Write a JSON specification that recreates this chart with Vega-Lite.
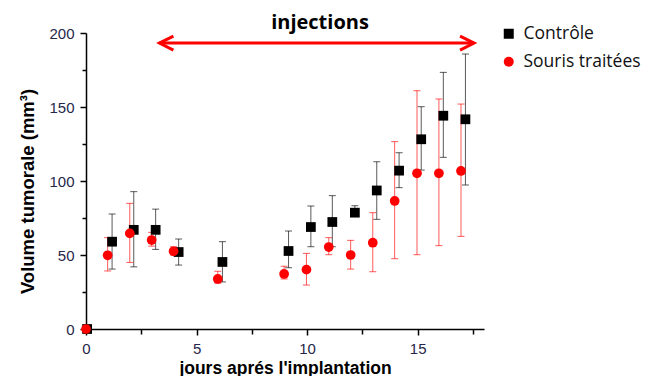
{
  "$schema": "https://vega.github.io/schema/vega-lite/v6.json",
  "width": 398,
  "height": 296,
  "autosize": {"type": "none"},
  "padding": {"left": 86, "top": 33, "right": 164, "bottom": 47},
  "background": "white",
  "title": {
    "text": "injections",
    "font": "Open Sans",
    "fontSize": 20,
    "fontWeight": "bold",
    "color": "black",
    "anchor": "middle",
    "frame": "group",
    "baseline": "alphabetic",
    "offset": 3,
    "dx": 35,
    "dy": 27
  },
  "datasets": {
    "pts": [
      {"serie": "Contrôle", "jour": 0.05, "volume": 0, "bas": null, "haut": null},
      {"serie": "Contrôle", "jour": 1.18, "volume": 59, "bas": 40.5, "haut": 77.7},
      {"serie": "Contrôle", "jour": 2.16, "volume": 67, "bas": 42, "haut": 92.8},
      {"serie": "Contrôle", "jour": 3.15, "volume": 67, "bas": 53.8, "haut": 81},
      {"serie": "Contrôle", "jour": 4.19, "volume": 52, "bas": 43.2, "haut": 60.8},
      {"serie": "Contrôle", "jour": 6.17, "volume": 45.3, "bas": 31.8, "haut": 59},
      {"serie": "Contrôle", "jour": 9.16, "volume": 52.7, "bas": 41.4, "haut": 66.2},
      {"serie": "Contrôle", "jour": 10.17, "volume": 68.9, "bas": 55.6, "haut": 83.1},
      {"serie": "Contrôle", "jour": 11.14, "volume": 72.3, "bas": 55.6, "haut": 90.1},
      {"serie": "Contrôle", "jour": 12.16, "volume": 78.6, "bas": 76, "haut": 83.3},
      {"serie": "Contrôle", "jour": 13.15, "volume": 93.6, "bas": 74.1, "haut": 113},
      {"serie": "Contrôle", "jour": 14.16, "volume": 107, "bas": 95.5, "haut": 119.1},
      {"serie": "Contrôle", "jour": 15.16, "volume": 128.2, "bas": 107.4, "haut": 150.2},
      {"serie": "Contrôle", "jour": 16.16, "volume": 144.1, "bas": 116, "haut": 173.4},
      {"serie": "Contrôle", "jour": 17.16, "volume": 141.7, "bas": 97.3, "haut": 185.8},
      {"serie": "Souris traitées", "jour": 0, "volume": 0, "bas": null, "haut": null},
      {"serie": "Souris traitées", "jour": 0.98, "volume": 49.8, "bas": 39.2, "haut": 61.7},
      {"serie": "Souris traitées", "jour": 1.98, "volume": 64.6, "bas": 45, "haut": 84.9},
      {"serie": "Souris traitées", "jour": 2.97, "volume": 60.1, "bas": 56, "haut": 65.3},
      {"serie": "Souris traitées", "jour": 3.96, "volume": 52.5, "bas": 50, "haut": 55.6},
      {"serie": "Souris traitées", "jour": 5.96, "volume": 33.8, "bas": 31, "haut": 39},
      {"serie": "Souris traitées", "jour": 8.96, "volume": 37.2, "bas": 33.8, "haut": 42.4},
      {"serie": "Souris traitées", "jour": 9.97, "volume": 40.1, "bas": 29.7, "haut": 51.1},
      {"serie": "Souris traitées", "jour": 10.98, "volume": 55.4, "bas": 50.2, "haut": 61.7},
      {"serie": "Souris traitées", "jour": 11.97, "volume": 50, "bas": 40.5, "haut": 59.9},
      {"serie": "Souris traitées", "jour": 12.97, "volume": 58.3, "bas": 38.7, "haut": 78.6},
      {"serie": "Souris traitées", "jour": 13.96, "volume": 86.5, "bas": 47.5, "haut": 126.6},
      {"serie": "Souris traitées", "jour": 14.97, "volume": 105.2, "bas": 50.2, "haut": 161},
      {"serie": "Souris traitées", "jour": 15.96, "volume": 105.2, "bas": 56.3, "haut": 155.4},
      {"serie": "Souris traitées", "jour": 16.96, "volume": 106.8, "bas": 62.6, "haut": 152}
    ],
    "fleche": [
      {"debut": 3.32, "fin": 17.55, "niveau": 193.2}
    ]
  },
  "data": {"name": "pts"},
  "encoding": {
    "x": {
      "field": "jour",
      "type": "quantitative",
      "scale": {"domain": [0, 18], "nice": false, "zero": false},
      "axis": {
        "title": "jours aprés l'implantation",
        "values": [0, 2.5, 5, 7.5, 10, 12.5, 15, 17.5],
        "labelExpr": "datum.value % 5 === 0 ? datum.label : ''",
        "tickSize": {"condition": {"test": "datum.value % 5 === 0", "value": 6}, "value": 5},
        "grid": false,
        "domainColor": "black",
        "domainWidth": 1.5,
        "tickColor": "black",
        "tickWidth": 1.5,
        "labelFont": "Liberation Sans",
        "labelFontSize": 15,
        "labelColor": "#26264a",
        "labelPadding": 6,
        "labelFlush": false,
        "titleFont": "Liberation Sans",
        "titleFontSize": 17.5,
        "titleFontWeight": "bold",
        "titleColor": "black",
        "titleY": 44,
        "titleBaseline": "alphabetic"
      }
    },
    "y": {
      "field": "volume",
      "type": "quantitative",
      "scale": {"domain": [0, 200], "nice": false},
      "axis": {
        "title": "Volume tumorale (mm³)",
        "values": [0, 25, 50, 75, 100, 125, 150, 175, 200],
        "labelExpr": "datum.value % 50 === 0 ? datum.label : ''",
        "tickSize": {"condition": {"test": "datum.value % 50 === 0", "value": 6}, "value": 4},
        "grid": false,
        "domainColor": "black",
        "domainWidth": 1.5,
        "tickColor": "black",
        "tickWidth": 1.5,
        "labelFont": "Liberation Sans",
        "labelFontSize": 15,
        "labelColor": "#26264a",
        "labelPadding": 6,
        "labelFlush": false,
        "titleFont": "Liberation Sans",
        "titleFontSize": 18.5,
        "titleFontWeight": "bold",
        "titleColor": "black",
        "titleX": -59,
        "titleY": 158,
        "titleAlign": "center",
        "titleBaseline": "middle"
      }
    },
    "color": {
      "field": "serie",
      "type": "nominal",
      "scale": {"domain": ["Contrôle", "Souris traitées"], "range": ["black", "red"]},
      "legend": {
        "title": null,
        "orient": "none",
        "legendX": 414,
        "legendY": -8,
        "padding": 0,
        "symbolSize": 100,
        "symbolStrokeWidth": 0,
        "symbolOpacity": 1,
        "labelFont": "Open Sans",
        "labelFontSize": 17.5,
        "labelColor": "#111111",
        "labelOffset": 6,
        "rowPadding": 9
      }
    },
    "shape": {
      "field": "serie",
      "type": "nominal",
      "scale": {"domain": ["Contrôle", "Souris traitées"], "range": ["square", "circle"]},
      "legend": {
        "title": null,
        "orient": "none",
        "legendX": 414,
        "legendY": -8,
        "padding": 0,
        "symbolSize": 100,
        "symbolStrokeWidth": 0,
        "symbolOpacity": 1,
        "labelFont": "Open Sans",
        "labelFontSize": 17.5,
        "labelColor": "#111111",
        "labelOffset": 6,
        "rowPadding": 9
      }
    }
  },
  "layer": [
    {
      "mark": {"type": "rule", "strokeWidth": 1, "opacity": 0.65},
      "encoding": {
        "y": {"field": "bas", "type": "quantitative"},
        "y2": {"field": "haut"},
        "shape": null
      }
    },
    {
      "mark": {"type": "tick", "orient": "horizontal", "size": 7, "thickness": 1, "opacity": 0.65},
      "encoding": {
        "y": {"field": "bas", "type": "quantitative"},
        "shape": null
      }
    },
    {
      "mark": {"type": "tick", "orient": "horizontal", "size": 7, "thickness": 1, "opacity": 0.65},
      "encoding": {
        "y": {"field": "haut", "type": "quantitative"},
        "shape": null
      }
    },
    {
      "mark": {"type": "point", "filled": true, "opacity": 1, "size": 95, "strokeWidth": 0},
      "encoding": {}
    },
    {
      "data": {"name": "fleche"},
      "mark": {"type": "rule", "color": "red", "strokeWidth": 3},
      "encoding": {
        "x": {"field": "debut", "type": "quantitative"},
        "x2": {"field": "fin"},
        "y": {"field": "niveau", "type": "quantitative"},
        "color": {"value": "red"},
        "shape": null
      }
    },
    {
      "data": {"name": "fleche"},
      "mark": {"type": "point", "filled": false, "stroke": "red", "strokeWidth": 3, "opacity": 1, "size": 196, "shape": "M 2 -1 L 0 0 L 2 1"},
      "encoding": {
        "x": {"field": "debut", "type": "quantitative"},
        "y": {"field": "niveau", "type": "quantitative"},
        "color": {"value": "red"},
        "shape": null
      }
    },
    {
      "data": {"name": "fleche"},
      "mark": {"type": "point", "filled": false, "stroke": "red", "strokeWidth": 3, "opacity": 1, "size": 196, "shape": "M -2 -1 L 0 0 L -2 1"},
      "encoding": {
        "x": {"field": "fin", "type": "quantitative"},
        "y": {"field": "niveau", "type": "quantitative"},
        "color": {"value": "red"},
        "shape": null
      }
    }
  ],
  "config": {
    "view": {"stroke": null},
    "font": "Liberation Sans"
  }
}
